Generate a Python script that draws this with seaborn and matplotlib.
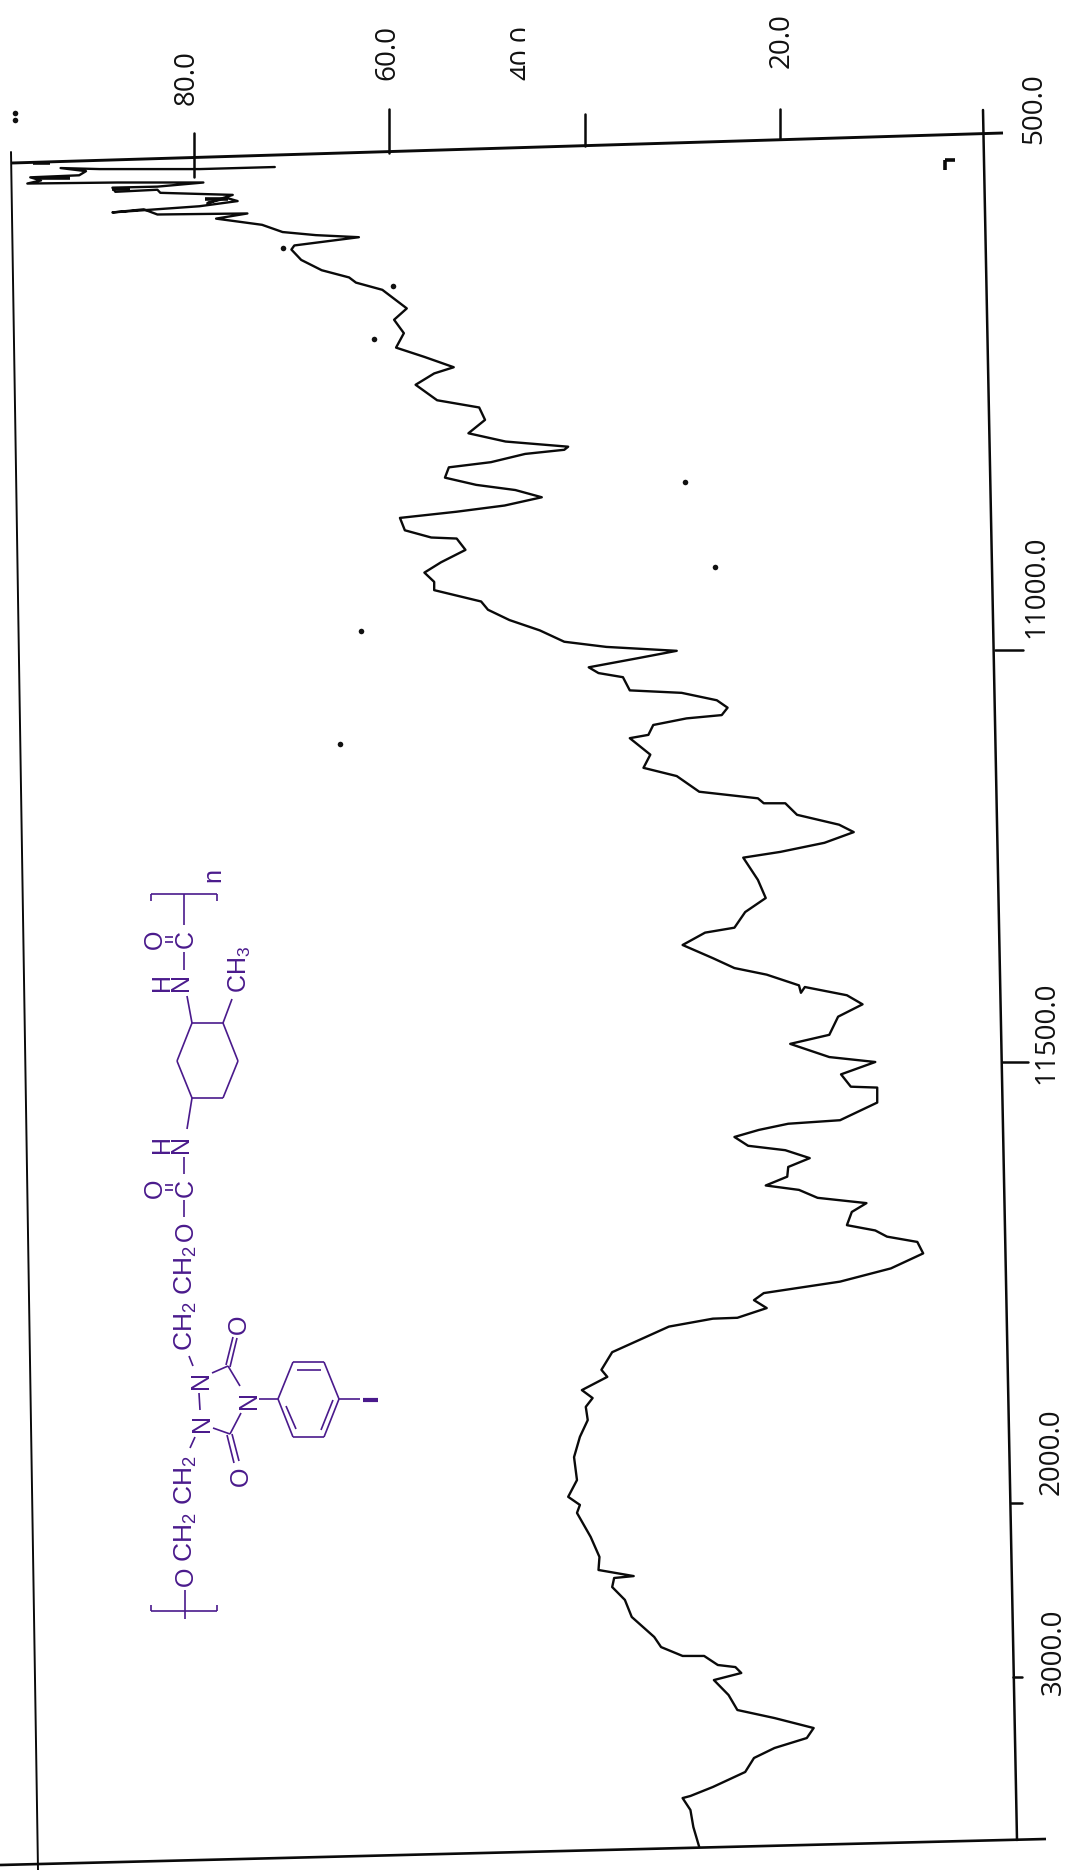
"""IR spectrum of a polyurethane, scanned page turned on its side."""

import matplotlib
matplotlib.use('Agg')
import matplotlib.pyplot as plt
import matplotlib.transforms as mtransforms
import numpy as np
import pandas as pd
import seaborn as sns

# curve, from the 500 end to the far end
WAVENUMBER = [
    532, 534, 534, 533, 536, 540, 542, 545, 548, 547, 547, 551, 552, 556, 554, 557,
    559, 567, 562, 565, 570, 576, 573, 578, 577, 582, 588, 595, 598, 600, 608, 612,
    622, 632, 639, 644, 651, 669, 680, 693, 707, 716, 726, 732, 743, 758, 765, 777,
    790, 798, 803, 806, 810, 818, 823, 833, 840, 845, 852, 860, 866, 872, 884, 891,
    892, 903, 915, 925, 934, 942, 953, 961, 971, 981, 992, 997, 1001, 1010, 1021, 1028,
    1033, 1049, 1052, 1061, 1070, 1079, 1083, 1091, 1103, 1107, 1127, 1143, 1153, 1172, 1180, 1186,
    1186, 1200, 1212, 1221, 1234, 1245, 1252, 1279, 1301, 1318, 1337, 1343, 1358, 1374, 1386, 1394,
    1407, 1416, 1409, 1419, 1430, 1445, 1467, 1478, 1494, 1500, 1514, 1528, 1529, 1546, 1566, 1570,
    1577, 1585, 1595, 1600, 1609, 1619, 1630, 1640, 1645, 1654, 1660, 1670, 1685, 1691, 1698, 1704,
    1717, 1734, 1749, 1762, 1770, 1779, 1790, 1791, 1800, 1817, 1829, 1849, 1857, 1872, 1881, 1891,
    1906, 1925, 1948, 1974, 1993, 2011, 2057, 2195, 2310, 2385, 2420, 2431, 2483, 2557, 2655, 2770,
    2828, 2879, 2879, 2931, 2943, 2977, 3019, 3112, 3205, 3255, 3317, 3379, 3441, 3503, 3590, 3683,
    3739, 3752, 3826, 3932, 4056,
]
TRANSMITTANCE = [
    71.7, 79.4, 89.6, 93.6, 91.0, 91.7, 96.7, 95.6, 97.0, 87.8, 79.0, 83.7, 88.3, 88.0, 83.7, 83.4,
    76.0, 78.6, 76.6, 75.5, 79.4, 88.3, 85.1, 83.7, 74.5, 77.7, 73.0, 70.9, 67.5, 63.1, 69.7, 70.0,
    69.0, 66.9, 64.1, 63.4, 60.7, 58.2, 59.5, 58.5, 59.3, 56.4, 53.4, 55.4, 57.3, 55.1, 50.8, 50.2,
    51.9, 48.1, 41.7, 42.1, 46.1, 49.6, 53.9, 54.3, 51.1, 47.1, 44.4, 48.2, 53.1, 58.9, 58.4, 55.7,
    53.1, 52.2, 54.7, 56.4, 55.4, 55.4, 50.6, 49.9, 47.7, 44.6, 42.1, 37.8, 30.6, 34.6, 39.6, 38.6,
    36.1, 35.4, 30.1, 26.5, 25.4, 26.0, 29.6, 33.0, 33.5, 35.4, 33.3, 34.0, 30.6, 28.3, 22.3, 21.7,
    19.5, 18.3, 14.0, 12.5, 15.5, 20.0, 23.8, 22.3, 21.5, 23.6, 24.7, 27.7, 30.0, 26.9, 24.7, 21.4,
    18.1, 17.9, 17.5, 13.2, 11.6, 14.1, 15.0, 19.0, 15.0, 10.3, 13.8, 12.8, 10.1, 10.1, 13.9, 19.2,
    22.2, 24.7, 23.3, 19.5, 17.0, 19.2, 19.3, 21.5, 18.1, 16.2, 11.2, 12.7, 13.2, 10.3, 9.1, 6.0,
    5.4, 8.7, 13.9, 21.7, 22.7, 21.4, 24.4, 26.9, 31.4, 34.8, 37.2, 38.3, 37.7, 40.3, 39.2, 39.9,
    39.7, 40.5, 41.1, 40.8, 41.7, 40.5, 40.8, 39.4, 38.5, 38.6, 35.0, 37.0, 37.2, 35.9, 35.2, 32.9,
    32.2, 30.0, 27.8, 26.4, 24.6, 24.0, 26.8, 25.3, 24.4, 20.6, 16.6, 17.3, 20.6, 22.7, 23.6, 26.9,
    29.2, 30.0, 29.2, 28.9, 28.3,
]

T_TICKS = [80, 60, 40, 20]
T_LABELS = ['80.0', '60.0', '40.0', '20.0']
WN_TICKS = [1000, 1500, 2000, 3000]
WN_LABELS = ['500.0', '11000.0', '11500.0', '2000.0', '3000.0']

PURPLE = '#4a1a8c'
INK = '#0a0a0a'

sns.set_theme(style='white')
plt.rcParams['font.family'] = ['Open Sans', 'DejaVu Sans']
plt.rcParams['mathtext.default'] = 'regular'

# the wavenumber axis of the instrument changes scale at each labelled tick
WN_KNOTS = [370, 500, 1000, 1500, 2000, 3000, 4000, 4200]
PX_KNOTS = [0, 134, 650, 1062, 1503, 1677, 1838, 1870]


def wn_forward(v):
    return np.interp(v, WN_KNOTS, PX_KNOTS)


def wn_inverse(v):
    return np.interp(v, PX_KNOTS, WN_KNOTS)


fig = plt.figure(figsize=(10.69, 18.70), dpi=100, facecolor='white')
ax = fig.add_axes([0, 0, 1, 1])
ax.set_yscale('function', functions=(wn_forward, wn_inverse))

df = pd.DataFrame({'wavenumber': WAVENUMBER, 'transmittance': TRANSMITTANCE})
sns.lineplot(data=df, x='transmittance', y='wavenumber', sort=False, estimator=None,
             color=INK, linewidth=1.7, ax=ax, zorder=3)

# T = 0 sits at 976 px, 9.78 px per unit
ax.set_xlim(976 / 9.78, (976 - 1069) / 9.78)
ax.set_ylim(4200, 370)
ax.axis('off')

# pixel overlay for the tilted page frame and the drawn molecule
pix = fig.add_axes([0, 0, 1, 1], facecolor='none')
pix.set_xlim(0, 1069)
pix.set_ylim(1870, 0)
pix.axis('off')

t_trans = mtransforms.blended_transform_factory(ax.transData, pix.transData)
wn_trans = mtransforms.blended_transform_factory(pix.transData, ax.transData)

pix.plot([12, 1003], [163, 133], color=INK, linewidth=2.1, solid_capstyle='butt')
pix.plot([0, 1046], [1865, 1839], color=INK, linewidth=1.9, solid_capstyle='butt')
pix.plot([11, 38], [152, 1870], color=INK, linewidth=1.4)
pix.plot([983, 1017], [110, 1840], color=INK, linewidth=1.8)

# transmittance ticks hang off the top edge
tick_spans = [(133, 177), (109, 153), (114, 146), (109, 139)]
for t, (y0, y1) in zip(T_TICKS, tick_spans):
    pix.plot([t, t], [y0, y1], transform=t_trans, color=INK, linewidth=1.8)

tick_reach = [(995, 1023), (1002, 1028), (1011, 1022), (1013, 1022)]
for wn, (x0, x1) in zip(WN_TICKS, tick_reach):
    pix.plot([x0, x1], [wn, wn], transform=wn_trans, color=INK, linewidth=1.8)

label_style = dict(rotation=90, ha='center', va='center', fontsize=20, color='#111111')
t_label_pos = [(187, 78), (387, 52), (523, 53), (782, 41)]
for lab, (x, y) in zip(T_LABELS, t_label_pos):
    txt = pix.text(x, y, lab, **label_style)
    if lab == '40.0':
        # the scan cuts this label off along its baseline
        txt.set_clip_on(True)
        txt.set_clip_box(mtransforms.TransformedBbox(
            mtransforms.Bbox([[480, 0], [525, 120]]), pix.transData))

wn_label_pos = [(1034, 109), (1036, 587), (1046, 1033), (1052, 1452), (1054, 1652)]
for lab, (x, y) in zip(WN_LABELS, wn_label_pos):
    pix.text(x, y, lab, **label_style)

# specks and smudges from the scan
specks_x = [685, 715, 361, 340, 283, 393, 374, 15, 15]
specks_y = [482, 567, 631, 744, 248, 286, 339, 113, 120]
pix.scatter(specks_x, specks_y, s=16, color='#111111', linewidths=0, zorder=2)
smudges = [
    ((945, 945), (160, 170)), ((945, 955), (160, 160)), ((33, 50), (163, 163)),
    ((35, 70), (178, 178)), ((112, 130), (189, 189)), ((205, 228), (199, 199)),
]
for xs, ys in smudges:
    pix.plot(xs, ys, color=INK, linewidth=2.6, solid_capstyle='butt')

# molecule
bond = dict(color=PURPLE, linewidth=1.2, solid_capstyle='butt')
segments = [
    # top bracket and carbonyl
    ((151, 217), (894, 894)), ((151, 151), (894, 901)), ((217, 217), (894, 901)),
    ((184, 184), (894, 925)), ((165, 173), (937, 937)), ((165, 173), (942, 942)),
    ((184, 184), (952, 970)), ((187, 192), (996, 1023)),
    # cyclohexane
    ((192, 223), (1023, 1023)), ((223, 238), (1023, 1061)), ((238, 223), (1061, 1098)),
    ((223, 192), (1098, 1098)), ((192, 177), (1098, 1061)), ((177, 192), (1061, 1023)),
    ((223, 232), (1023, 999)), ((192, 187), (1098, 1129)),
    # second urethane
    ((184, 184), (1157, 1174)), ((165, 173), (1185, 1185)), ((165, 173), (1190, 1190)),
    ((184, 184), (1200, 1217)),
    # urazole ring
    ((189, 193), (1356, 1366)), ((199, 200), (1393, 1410)), ((212, 228), (1373, 1366)),
    ((228, 240), (1366, 1386)), ((226, 233), (1365, 1337)), ((230, 237), (1367, 1338)),
    ((213, 230), (1428, 1434)), ((230, 241), (1434, 1413)), ((227, 234), (1435, 1463)),
    ((232, 239), (1434, 1461)), ((195, 190), (1437, 1448)), ((259, 278), (1399, 1399)),
    # benzene
    ((278, 293), (1399, 1362)), ((293, 324), (1362, 1362)), ((324, 339), (1362, 1399)),
    ((339, 324), (1399, 1437)), ((324, 293), (1437, 1437)), ((293, 278), (1437, 1399)),
    ((297, 321), (1370, 1370)), ((333, 321), (1400, 1430)), ((286, 296), (1406, 1429)),
    ((339, 360), (1399, 1399)),
    # bottom bracket
    ((151, 217), (1611, 1611)), ((151, 151), (1611, 1605)), ((217, 217), (1611, 1605)),
    ((185, 185), (1590, 1619)),
]
for xs, ys in segments:
    pix.plot(xs, ys, **bond)
pix.plot([363, 378], [1400, 1400], color=PURPLE, linewidth=3, solid_capstyle='butt')

# rotation_mode anchor so x below is the baseline of each rotated glyph
mol = dict(rotation=90, rotation_mode='anchor', ha='center', va='baseline',
           color=PURPLE, fontsize=18, family='Liberation Sans')
atoms = [
    (193, 939, 'C'), (162, 939, 'O'), (193, 1188, 'C'), (162, 1188, 'O'),
    (208, 1380, 'N'), (209, 1423, 'N'), (256, 1400, 'N'), (246, 1324, 'O'), (248, 1476, 'O'),
    (220, 875, 'n'), (193, 1231, 'O'), (193, 1576, 'O'),
]
for x, y, s in atoms:
    pix.text(x, y, s, **mol)
# H sits on its N, one text so the two stack tightly; x is the N baseline
for y in [982, 1144]:
    pix.text(193, y, 'H\nN', linespacing=0.75, **mol)
pix.text(247, 969, 'CH$_3$', **mol)
for y in [1326, 1270, 1537, 1480]:
    pix.text(193, y, 'CH$_2$', **{**mol, 'fontsize': 19})

fig.savefig('out.png', dpi=100, facecolor='white')
